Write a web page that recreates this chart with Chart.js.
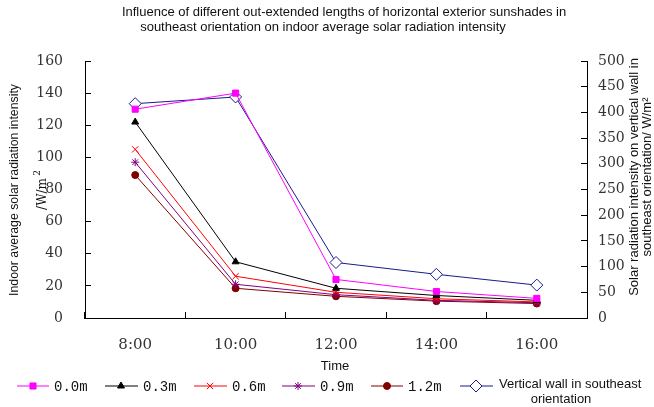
<!DOCTYPE html>
<html>
<head>
<meta charset="utf-8">
<script src="https://cdn.jsdelivr.net/npm/chart.js@4.4.1/dist/chart.umd.min.js"></script>
<style>
body { margin: 0; background: #fff; }
#plot-wrap { width: 654px; height: 407px; }
</style>
</head>
<body>
<div id="plot-wrap"><canvas id="sunshade-plot"></canvas></div>
<script>
let hours = ['8:00', '10:00', '12:00', '14:00', '16:00']
let shade_labels = ['0.0m', '0.3m', '0.6m', '0.9m', '1.2m']
let shade_0_0 = [130, 140, 24, 16.5, 12.2]
let shade_0_3 = [122, 35, 18.5, 14, 11]
let shade_0_6 = [105, 26, 16, 12, 10]
let shade_0_9 = [97, 21, 14.5, 11, 9.5]
let shade_1_2 = [89, 18.5, 13.5, 10.5, 9]
let wall_label = ['Vertical wall in southeast', 'orientation']
let wall_se = [417, 430, 108, 85, 64]

let title_lines = ['Influence of different out-extended lengths of horizontal exterior sunshades in',
                   'southeast orientation on indoor average solar radiation intensity']
let left_title = 'Indoor average solar radiation intensity'
let right_title = ['Solar radiation intensity on vertical wall in', 'southeast orientation/ W/m\u00b2']
let x_title = 'Time'

const sans = '"Liberation Sans", Arial, sans-serif'
const serif = '"DejaVu Serif", serif'
const mono = '"Liberation Mono", monospace'

// legend slots: line start, line end, marker x, text x
let legend_slots = [[17, 49, 33, 54], [105, 138, 121, 143], [194, 227, 210, 232],
                    [282, 315, 298, 320], [371, 403, 387, 408], [460, 493, 476, 499]]

function make_set(label, data, color, style, radius, axis, fill) {
    return {
        label: label,
        data: data,
        yAxisID: axis,
        borderColor: color,
        borderWidth: 1,
        pointStyle: style,
        pointRadius: radius,
        pointBorderColor: color,
        pointBackgroundColor: fill || color,
        pointBorderWidth: 1,
        tension: 0,
    }
}

const text_plugin = {
    id: 'sunshade_text',
    afterDraw(chart) {
        const ctx = chart.ctx
        ctx.save()
        ctx.fillStyle = '#111'
        ctx.textBaseline = 'middle'
        ctx.textAlign = 'center'
        ctx.font = '13px ' + sans
        ctx.fillText(title_lines[0], 344, 12)
        ctx.fillText(title_lines[1], 323, 27)
        ctx.fillText(x_title, 335, 366)

        // left axis title with its unit
        ctx.save()
        ctx.translate(15, 190)
        ctx.rotate(-Math.PI / 2)
        ctx.font = '12.3px ' + sans
        ctx.fillText(left_title, 0, 0)
        ctx.restore()
        ctx.save()
        ctx.translate(43, 194)
        ctx.rotate(-Math.PI / 2)
        ctx.font = '12px ' + serif
        ctx.fillText('/W/m', 0, 0)
        ctx.font = '9px ' + serif
        ctx.fillText('2', 21, -5)
        ctx.restore()

        // right axis title, two lines
        ctx.save()
        ctx.translate(640, 177)
        ctx.rotate(-Math.PI / 2)
        ctx.font = '13px ' + sans
        ctx.fillText(right_title[0], 0, -6)
        ctx.fillText(right_title[1], 0, 7)
        ctx.restore()

        // legend: line + marker + label, styled from each dataset
        const ly = 386
        chart.data.datasets.forEach((ds, i) => {
            const s = legend_slots[i]
            ctx.strokeStyle = ds.borderColor
            ctx.lineWidth = 1
            ctx.beginPath()
            ctx.moveTo(s[0], ly)
            ctx.lineTo(s[1], ly)
            ctx.stroke()
            ctx.fillStyle = ds.pointBackgroundColor
            ctx.strokeStyle = ds.pointBorderColor
            Chart.helpers.drawPoint(ctx, {pointStyle: ds.pointStyle, radius: ds.pointRadius, rotation: 0, borderWidth: 1}, s[2], ly)
            ctx.fillStyle = '#111'
            if (i < shade_labels.length) {
                ctx.font = '14px ' + mono
                ctx.textAlign = 'left'
                ctx.fillText(ds.label, s[3], ly + 1)
            } else {
                ctx.font = '13px ' + sans
                ctx.textAlign = 'left'
                ctx.fillText(wall_label[0], s[3], ly - 2)
                ctx.textAlign = 'center'
                ctx.fillText(wall_label[1], 561, ly + 13)
            }
        })
        ctx.restore()
    }
}

document.addEventListener('DOMContentLoaded', () => {
    let ctx = document.getElementById('sunshade-plot')
    let tick_font = {family: serif, size: 14}
    new Chart(ctx, {
        type: 'line',
        data: {
            labels: hours,
            datasets: [
                make_set(shade_labels[0], shade_0_0, '#ff00ff', 'rect', 4.3, 'y'),
                make_set(shade_labels[1], shade_0_3, '#000000', 'triangle', 4, 'y'),
                make_set(shade_labels[2], shade_0_6, '#ff0000', 'crossRot', 4.5, 'y'),
                make_set(shade_labels[3], shade_0_9, '#800080', 'star', 4, 'y'),
                make_set(shade_labels[4], shade_1_2, '#800000', 'circle', 3.5, 'y'),
                make_set(wall_label.join(' '), wall_se, '#1a1a8c', 'rectRot', 6, 'y1', '#ffffff'),
            ]
        },
        options: {
            responsive: true,
            maintainAspectRatio: false,
            animation: false,
            layout: {padding: {top: 61, left: 0, right: 0, bottom: 0}},
            plugins: {legend: {display: false}, tooltip: {enabled: false}},
            scales: {
                x: {
                    offset: true,
                    grid: {offset: true, drawOnChartArea: false, tickLength: -6, color: '#000'},
                    border: {color: '#000'},
                    ticks: {font: {family: serif, size: 15}, color: '#333', padding: 24, maxRotation: 0},
                    afterFit: s => { s.height = 407 - 318 },
                },
                y: {
                    position: 'left',
                    min: 0, max: 160,
                    grid: {drawOnChartArea: false, tickLength: -6, color: '#000'},
                    border: {color: '#000'},
                    ticks: {stepSize: 20, font: tick_font, color: '#333', padding: 28},
                    afterFit: s => { s.width = 85 },
                },
                y1: {
                    position: 'right',
                    min: 0, max: 500,
                    grid: {drawOnChartArea: false, tickLength: -6, color: '#000'},
                    border: {color: '#000'},
                    ticks: {stepSize: 50, font: tick_font, color: '#333', padding: 17},
                    afterFit: s => { s.width = 654 - 587 },
                },
            }
        },
        plugins: [text_plugin]
    })
})
</script>
</body>
</html>
